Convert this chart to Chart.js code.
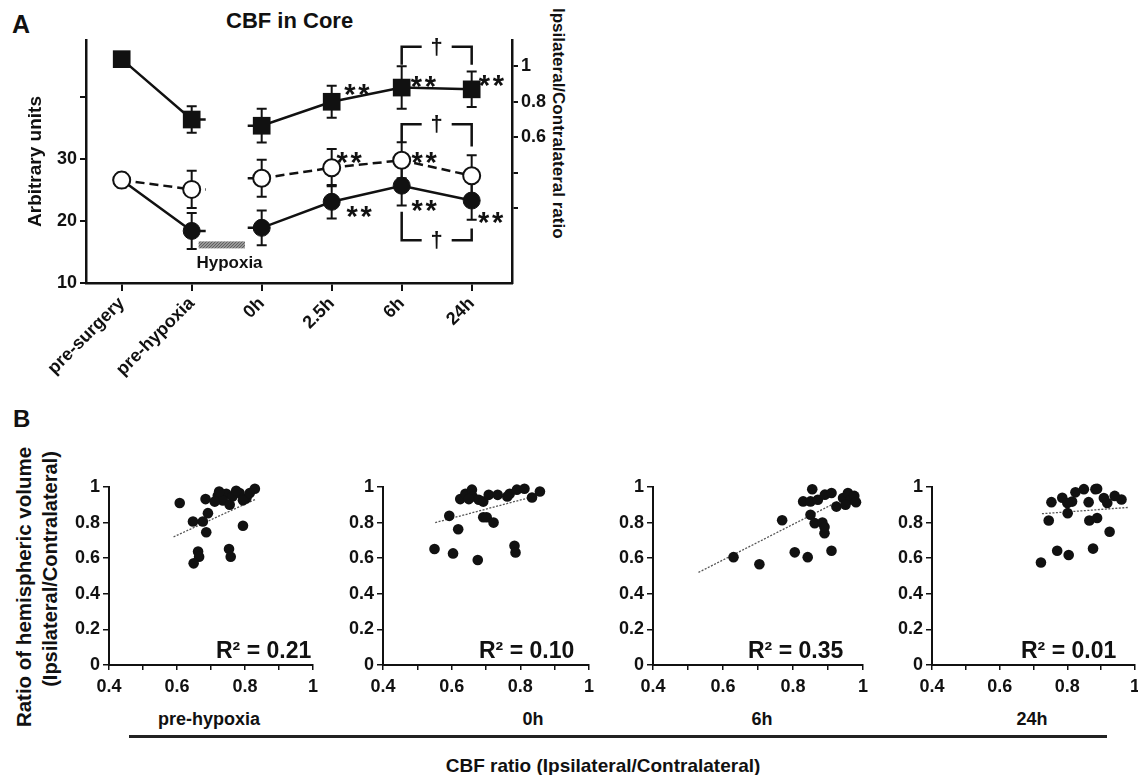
<!DOCTYPE html>
<html>
<head>
<meta charset="utf-8">
<title>CBF in Core</title>
<script src="https://cdn.jsdelivr.net/npm/chart.js@4.4.1/dist/chart.umd.min.js"></script>
<style>
  html, body { margin: 0; padding: 0; background: #fff; }
  body { position: relative; width: 1138px; height: 775px; overflow: hidden;
         font-family: "Liberation Sans", Arial, sans-serif; font-weight: bold; color: #111; }
  .pane { position: absolute; }
  .txt { position: absolute; white-space: nowrap; line-height: 1; }
  .ctr { position: absolute; white-space: nowrap; line-height: 1; transform: translate(-50%, -50%); }
  .vert { position: absolute; white-space: nowrap; line-height: 1; transform: translate(-50%, -50%) rotate(-90deg); }
</style>
</head>
<body>

<!-- Panel A -->
<div class="txt" style="left:12px; top:12px; font-size:25px">A</div>
<div class="txt" style="left:226px; top:10px; font-size:22px">CBF in Core</div>
<div class="txt" style="left:550px; top:8px; font-size:17px; writing-mode:vertical-rl">Ipsilateral/Contralateral ratio</div>
<div class="pane" style="left:0; top:0"><canvas id="panelA" width="548" height="390"></canvas></div>

<!-- Panel B -->
<div class="txt" style="left:13px; top:407px; font-size:24px">B</div>
<div class="vert" style="left:24px; top:587px; font-size:20.5px">Ratio of hemispheric volume</div>
<div class="vert" style="left:50px; top:569px; font-size:20px">(Ipsilateral/Contralateral)</div>

<div class="pane" style="left:64px; top:470px"><canvas id="b1" width="264" height="235"></canvas></div>
<div class="pane" style="left:338px; top:470px"><canvas id="b2" width="266" height="235"></canvas></div>
<div class="pane" style="left:608px; top:470px"><canvas id="b3" width="270" height="235"></canvas></div>
<div class="pane" style="left:887px; top:470px"><canvas id="b4" width="263" height="235"></canvas></div>

<div class="txt" style="left:216px; top:639px; font-size:23px">R² = 0.21</div>
<div class="txt" style="left:479px; top:639px; font-size:23px">R² = 0.10</div>
<div class="txt" style="left:748px; top:639px; font-size:23px">R² = 0.35</div>
<div class="txt" style="left:1021px; top:639px; font-size:23px">R² = 0.01</div>

<div class="ctr" style="left:209px; top:719px; font-size:18px">pre-hypoxia</div>
<div class="ctr" style="left:533px; top:719px; font-size:18px">0h</div>
<div class="ctr" style="left:762px; top:719px; font-size:18px">6h</div>
<div class="ctr" style="left:1032px; top:719px; font-size:18px">24h</div>

<div class="pane" style="left:129px; top:735px; width:978px; height:2.5px; background:#222"></div>
<div class="ctr" style="left:603px; top:765px; font-size:19px">CBF ratio (Ipsilateral/Contralateral)</div>

<script>
// --- DADOS: painel A (médias e erros) ---
const timeLabels = ['pre-surgery', 'pre-hypoxia', '0h', '2.5h', '6h', '24h'];
const ratioMean = [1.04, 0.70, 0.665, 0.80, 0.88, 0.87];   // quadrados, eixo direito
const ratioErr = [0, 0.075, 0.095, 0.09, 0.12, 0.10];
const contraMean = [26.6, 25.1, 26.9, 28.6, 29.8, 27.3];   // círculos abertos
const contraErr = [1.2, 3.0, 3.0, 3.0, 2.9, 3.3];
const ipsiMean = [26.6, 18.4, 18.9, 23.1, 25.7, 23.3];     // círculos cheios
const ipsiErr = [1.0, 2.9, 2.8, 2.7, 3.2, 3.1];
const leftTicks = [10, 20, 30, 40];
const rightTicks = [0.2, 0.4, 0.6, 0.8, 1];

// anotações do painel A, em unidades de dados (x = índice do tempo, y = eixo esquerdo)
const sigMarks = [[3.07, 30.6], [4.14, 30.6], [3.21, 22.0], [4.14, 22.9], [5.09, 21.0],
                  [3.18, 41.6], [4.13, 42.9], [5.10, 43.0]];
const brackets = [
  { from: 4, to: 5, level: 48.1, leftEnd: 45.2, rightEnd: 45.2 },
  { from: 4, to: 5, level: 35.6, leftEnd: 32.6, rightEnd: 32.0 },
  { from: 4, to: 5, level: 16.9, leftEnd: 21.5, rightEnd: 18.8 }
];
const hypoxiaSpan = [1.1, 1.76];
const hypoxiaLevel = 16.15;
const hypoxiaLabelAt = [1.54, 13.1];

// --- DADOS: painel B ---
const prehypX = [0.608, 0.684, 0.720, 0.745, 0.763, 0.784, 0.804, 0.829, 0.735, 0.755, 0.711, 0.724, 0.774,
                 0.794, 0.814, 0.691, 0.647, 0.676, 0.686, 0.794, 0.662, 0.665, 0.649, 0.753, 0.758];
const prehypY = [0.910, 0.932, 0.951, 0.962, 0.947, 0.966, 0.937, 0.990, 0.924, 0.900, 0.918, 0.975, 0.979,
                 0.925, 0.966, 0.853, 0.806, 0.806, 0.746, 0.782, 0.637, 0.608, 0.571, 0.652, 0.608];
const prehypFit = [[0.59, 0.72], [0.83, 0.93]];

const h0X = [0.550, 0.593, 0.604, 0.619, 0.625, 0.640, 0.659, 0.661, 0.679, 0.692, 0.708, 0.734, 0.692,
             0.702, 0.722, 0.676, 0.769, 0.790, 0.812, 0.783, 0.786, 0.834, 0.857, 0.762, 0.650];
const h0Y = [0.652, 0.838, 0.627, 0.763, 0.932, 0.962, 0.985, 0.947, 0.928, 0.918, 0.956, 0.956, 0.830,
             0.830, 0.800, 0.590, 0.962, 0.985, 0.990, 0.670, 0.632, 0.941, 0.975, 0.947, 0.932];
const h0Fit = [[0.552, 0.80], [0.855, 0.955]];

const h6X = [0.630, 0.704, 0.769, 0.805, 0.842, 0.910, 0.855, 0.829, 0.850, 0.871, 0.891, 0.910, 0.924,
             0.943, 0.957, 0.850, 0.862, 0.884, 0.890, 0.890, 0.965, 0.975, 0.980, 0.950];
const h6Y = [0.606, 0.566, 0.813, 0.633, 0.606, 0.642, 0.987, 0.919, 0.919, 0.928, 0.957, 0.966, 0.890,
             0.938, 0.966, 0.844, 0.797, 0.800, 0.740, 0.775, 0.930, 0.950, 0.915, 0.900];
const h6Fit = [[0.53, 0.52], [0.93, 0.92]];

const h24X = [0.722, 0.745, 0.753, 0.770, 0.785, 0.801, 0.804, 0.814, 0.824, 0.849, 0.863, 0.865, 0.876,
              0.883, 0.888, 0.800, 0.925, 0.908, 0.918, 0.888, 0.960, 0.940];
const h24Y = [0.576, 0.812, 0.915, 0.642, 0.940, 0.853, 0.618, 0.918, 0.970, 0.988, 0.915, 0.812, 0.654,
              0.988, 0.826, 0.910, 0.749, 0.938, 0.910, 0.990, 0.930, 0.950];
const h24Fit = [[0.725, 0.85], [0.98, 0.885]];

const bXTicks = [0.4, 0.5, 0.6, 0.7, 0.8, 0.9, 1];
const bXLabels = ['0.4', '', '0.6', '', '0.8', '', '1'];
const bYTicks = [0, 0.2, 0.4, 0.6, 0.8, 1];

// --- ESTILO ---
const FONT = '"Liberation Sans", Arial, Helvetica, sans-serif';
const INK = '#111';
const STUB = 0.2; // pedaço de linha que sobra nos dois lados da hipóxia
Chart.defaults.font.family = FONT;
Chart.defaults.color = INK;

// linha quebrada entre pre-hypoxia e 0h
function linePts(means) {
  const pts = [{ x: 0, y: means[0] }, { x: 1, y: means[1] }, { x: 1 + STUB, y: means[1] },
               { x: 1.5, y: null }, { x: 2 - STUB, y: means[2] }];
  for (let i = 2; i < means.length; i++) pts.push({ x: i, y: means[i] });
  return pts;
}
const markerPts = (means) => means.map((m, i) => ({ x: i, y: m }));

// barras de erro desenhadas por baixo dos marcadores
const errorBars = {
  id: 'errorBars',
  beforeDatasetsDraw(chart) {
    const { ctx, scales } = chart;
    ctx.save();
    ctx.strokeStyle = INK;
    ctx.lineWidth = 2;
    chart.data.datasets.forEach(ds => {
      if (!ds.errors) return;
      const ys = scales[ds.yAxisID];
      ds.data.forEach((p, i) => {
        const e = ds.errors[i];
        if (!e) return;
        const px = scales.x.getPixelForValue(p.x);
        const top = ys.getPixelForValue(p.y + e);
        const bot = ys.getPixelForValue(p.y - e);
        ctx.beginPath();
        ctx.moveTo(px, top); ctx.lineTo(px, bot);
        ctx.moveTo(px - 5, top); ctx.lineTo(px + 5, top);
        ctx.moveTo(px - 5, bot); ctx.lineTo(px + 5, bot);
        ctx.stroke();
      });
    });
    ctx.restore();
  }
};

// hipóxia, asteriscos e colchetes com †
const panelAMarks = {
  id: 'panelAMarks',
  afterDatasetsDraw(chart) {
    const { ctx, scales: { x, y } } = chart;
    ctx.save();

    const hx0 = x.getPixelForValue(hypoxiaSpan[0]);
    const hx1 = x.getPixelForValue(hypoxiaSpan[1]);
    const hy = y.getPixelForValue(hypoxiaLevel);
    ctx.fillStyle = '#9a9a9a';
    ctx.fillRect(hx0, hy - 3.5, hx1 - hx0, 7);
    ctx.beginPath();
    ctx.rect(hx0, hy - 3.5, hx1 - hx0, 7);
    ctx.clip();
    ctx.strokeStyle = '#5c5c5c';
    ctx.lineWidth = 1;
    for (let k = hx0 - 8; k < hx1; k += 3) {
      ctx.beginPath();
      ctx.moveTo(k, hy + 3.5);
      ctx.lineTo(k + 7, hy - 3.5);
      ctx.stroke();
    }
    ctx.restore();
    ctx.save();

    ctx.fillStyle = INK;
    ctx.font = `bold 17px ${FONT}`;
    ctx.textAlign = 'center';
    ctx.textBaseline = 'middle';
    ctx.fillText('Hypoxia', x.getPixelForValue(hypoxiaLabelAt[0]), y.getPixelForValue(hypoxiaLabelAt[1]));

    ctx.font = `bold 29px ${FONT}`;
    ctx.textAlign = 'left';
    ctx.textBaseline = 'alphabetic';
    sigMarks.forEach(([sx, sy]) => {
      const px = x.getPixelForValue(sx);
      const py = y.getPixelForValue(sy) + 17;
      ctx.fillText('*', px, py);
      ctx.fillText('*', px + 14, py);
    });

    ctx.strokeStyle = INK;
    ctx.lineWidth = 2.5;
    ctx.font = `bold 22px ${FONT}`;
    ctx.textAlign = 'center';
    brackets.forEach(b => {
      const xl = x.getPixelForValue(b.from);
      const xr = x.getPixelForValue(b.to);
      const mid = (xl + xr) / 2;
      const yl = y.getPixelForValue(b.level);
      ctx.beginPath();
      ctx.moveTo(xl, y.getPixelForValue(b.leftEnd));
      ctx.lineTo(xl, yl);
      ctx.lineTo(mid - 15, yl);
      ctx.moveTo(mid + 15, yl);
      ctx.lineTo(xr, yl);
      ctx.lineTo(xr, y.getPixelForValue(b.rightEnd));
      ctx.stroke();
      ctx.fillText('†', mid, yl + 7);
    });
    ctx.restore();
  }
};

const tickFontA = { family: FONT, weight: 'bold', size: 18 };

new Chart(document.getElementById('panelA'), {
  type: 'line',
  data: {
    datasets: [
      { data: linePts(ratioMean), yAxisID: 'yR', borderColor: INK, borderWidth: 2.5, pointRadius: 0, order: 3 },
      { data: linePts(ipsiMean), yAxisID: 'y', borderColor: INK, borderWidth: 2.5, pointRadius: 0, order: 3 },
      { data: linePts(contraMean), yAxisID: 'y', borderColor: INK, borderWidth: 2.5, borderDash: [9, 5], pointRadius: 0, order: 3 },
      { data: markerPts(ratioMean), errors: ratioErr, yAxisID: 'yR', showLine: false, pointStyle: 'rect',
        pointRadius: 12.5, pointBackgroundColor: INK, pointBorderColor: INK, pointBorderWidth: 0, order: 2 },
      { data: markerPts(ipsiMean), errors: ipsiErr, yAxisID: 'y', showLine: false, pointStyle: 'circle',
        pointRadius: 8.5, pointBackgroundColor: INK, pointBorderColor: INK, pointBorderWidth: 1, order: 2 },
      { data: markerPts(contraMean), errors: contraErr, yAxisID: 'y', showLine: false, pointStyle: 'circle',
        pointRadius: 8.5, pointBackgroundColor: '#fff', pointBorderColor: INK, pointBorderWidth: 2, order: 1 }
    ]
  },
  options: {
    responsive: false, animation: false,
    layout: { padding: { top: 40, left: 0, right: 0, bottom: 0 } },
    plugins: { legend: { display: false }, tooltip: { enabled: false } },
    elements: { line: { tension: 0 } },
    scales: {
      x: {
        type: 'linear', min: -0.51, max: 5.576,
        afterBuildTicks: s => { s.ticks = timeLabels.map((_, i) => ({ value: i })); },
        afterFit: s => { s.height = 107; },
        ticks: { callback: v => timeLabels[v], minRotation: 45, maxRotation: 45, autoSkip: false, font: tickFontA, padding: 2 },
        grid: { display: true, drawOnChartArea: false, drawTicks: true, tickLength: 8, color: INK, lineWidth: 2 },
        border: { display: true, color: INK, width: 2.5 }
      },
      y: {
        position: 'left', min: 10, max: 49.2,
        afterBuildTicks: s => { s.ticks = leftTicks.map(v => ({ value: v })); },
        afterFit: s => { s.width = 86; },
        ticks: { callback: v => (v < 40 ? String(v) : ''), font: tickFontA, padding: 3 },
        grid: { display: true, drawOnChartArea: false, drawTicks: true, tickLength: 6, color: INK, lineWidth: 2 },
        border: { display: true, color: INK, width: 2.5 },
        title: { display: true, text: 'Arbitrary units', font: { family: FONT, weight: 'bold', size: 19 }, padding: { top: 24 } }
      },
      yR: {
        position: 'right', min: -0.221, max: 1.148,
        afterBuildTicks: s => { s.ticks = rightTicks.map(v => ({ value: v })); },
        afterFit: s => { s.width = 36; },
        ticks: { callback: v => (v >= 0.59 ? String(v) : ''), font: tickFontA, padding: 3 },
        grid: { display: true, drawOnChartArea: false, drawTicks: true, tickLength: 6, color: INK, lineWidth: 2 },
        border: { display: true, color: INK, width: 2.5 }
      }
    }
  },
  plugins: [errorBars, panelAMarks]
});

// --- painel B: um gráfico de dispersão para cada momento ---
const tickFontB = { family: FONT, weight: 'bold', size: 18 };

function scatterPanel(canvasId, xs, ys, fit) {
  new Chart(document.getElementById(canvasId), {
    type: 'scatter',
    data: {
      datasets: [
        { data: xs.map((v, i) => ({ x: v, y: ys[i] })), pointRadius: 5.3, pointBackgroundColor: INK,
          pointBorderColor: INK, pointBorderWidth: 0, clip: false, order: 1 },
        { data: fit.map(([fx, fy]) => ({ x: fx, y: fy })), showLine: true, pointRadius: 0,
          borderColor: '#555', borderWidth: 1.3, borderDash: [2, 1.5], order: 2 }
      ]
    },
    options: {
      responsive: false, animation: false,
      layout: { padding: { top: 17, right: 15, left: 0, bottom: 0 } },
      plugins: { legend: { display: false }, tooltip: { enabled: false } },
      scales: {
        x: {
          type: 'linear', min: 0.4, max: 1,
          afterBuildTicks: s => { s.ticks = bXTicks.map(v => ({ value: v })); },
          afterFit: s => { s.height = 40; },
          ticks: { callback: (v, i) => bXLabels[i], font: tickFontB, padding: 6, maxRotation: 0, autoSkip: false },
          grid: { display: true, drawOnChartArea: false, drawTicks: true, tickLength: 5, color: INK, lineWidth: 1.5 },
          border: { display: true, color: INK, width: 2 }
        },
        y: {
          min: 0, max: 1,
          afterBuildTicks: s => { s.ticks = bYTicks.map(v => ({ value: v })); },
          afterFit: s => { s.width = 45; },
          ticks: { callback: v => String(v), font: tickFontB, padding: 3 },
          grid: { display: true, drawOnChartArea: false, drawTicks: true, tickLength: 6, color: INK, lineWidth: 1.5 },
          border: { display: true, color: INK, width: 2 }
        }
      }
    }
  });
}

scatterPanel('b1', prehypX, prehypY, prehypFit);
scatterPanel('b2', h0X, h0Y, h0Fit);
scatterPanel('b3', h6X, h6Y, h6Fit);
scatterPanel('b4', h24X, h24Y, h24Fit);
</script>
</body>
</html>
